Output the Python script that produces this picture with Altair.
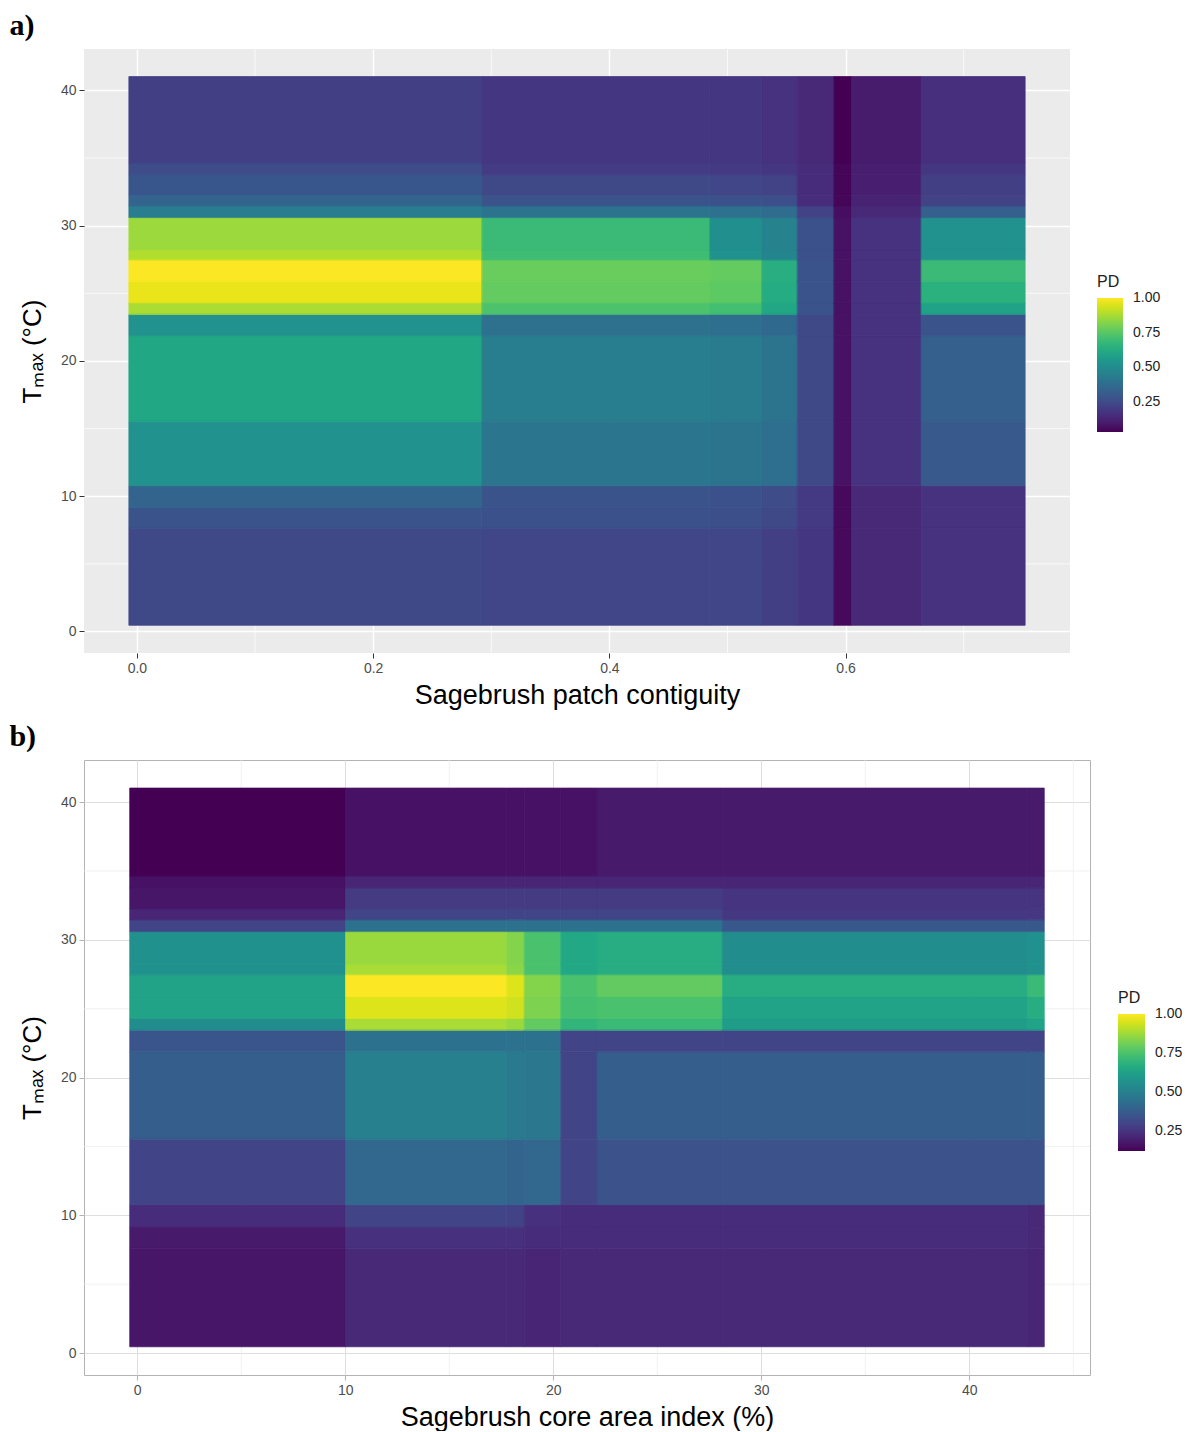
import altair as alt
import pandas as pd

# Shared Tmax tile edges (deg C), bottom to top
tmax_edges = [0.46, 7.62, 9.15, 10.77, 15.53, 21.87, 23.44, 24.29, 25.88,
              27.47, 28.2, 30.6, 31.45, 32.25, 33.77, 34.64, 41.02]
y_ticks = [0, 10, 20, 30, 40]
y_minor = [5, 15, 25, 35]

# ---- Panel a: Sagebrush patch contiguity ----
contig_edges = [-0.0068, 0.292, 0.485, 0.529, 0.559, 0.590, 0.605, 0.664, 0.752]
contig_ticks = [0.0, 0.2, 0.4, 0.6]
contig_minor = [0.1, 0.3, 0.5, 0.7]
# PD per contiguity column, low Tmax -> high Tmax
pd_a_col1 = [0.24, 0.28, 0.34, 0.52, 0.61, 0.52, 0.88, 0.97, 1.00, 0.89, 0.86, 0.44, 0.34, 0.29, 0.25, 0.21]
pd_a_col2 = [0.23, 0.27, 0.28, 0.41, 0.44, 0.39, 0.73, 0.77, 0.78, 0.70, 0.69, 0.40, 0.28, 0.24, 0.20, 0.18]
pd_a_col3 = [0.23, 0.26, 0.27, 0.40, 0.43, 0.38, 0.71, 0.76, 0.77, 0.52, 0.51, 0.39, 0.27, 0.23, 0.19, 0.18]
pd_a_col4 = [0.21, 0.24, 0.25, 0.38, 0.40, 0.36, 0.61, 0.63, 0.64, 0.47, 0.46, 0.37, 0.26, 0.22, 0.18, 0.17]
pd_a_col5 = [0.18, 0.19, 0.19, 0.24, 0.24, 0.24, 0.28, 0.28, 0.28, 0.27, 0.27, 0.22, 0.15, 0.15, 0.15, 0.14]
pd_a_col6 = [0.05, 0.05, 0.05, 0.07, 0.07, 0.07, 0.07, 0.07, 0.07, 0.07, 0.07, 0.06, 0.04, 0.04, 0.04, 0.03]
pd_a_col7 = [0.14, 0.14, 0.14, 0.17, 0.17, 0.17, 0.17, 0.17, 0.17, 0.17, 0.17, 0.14, 0.12, 0.11, 0.11, 0.10]
pd_a_col8 = [0.17, 0.17, 0.17, 0.30, 0.32, 0.28, 0.59, 0.65, 0.69, 0.52, 0.52, 0.32, 0.22, 0.21, 0.18, 0.16]
pd_a_domain = [0.03, 1.003]

# ---- Panel b: Sagebrush core area index (%) ----
core_edges = [-0.36, 10.01, 17.76, 18.6, 20.36, 22.1, 28.13, 42.8, 43.6]
core_ticks = [0, 10, 20, 30, 40]
core_minor = [5, 15, 25, 35, 45]
pd_b_col1 = [0.17, 0.18, 0.23, 0.30, 0.38, 0.35, 0.55, 0.63, 0.63, 0.56, 0.56, 0.30, 0.21, 0.17, 0.16, 0.12]
pd_b_col2 = [0.22, 0.24, 0.30, 0.41, 0.50, 0.45, 0.89, 0.96, 1.00, 0.89, 0.87, 0.45, 0.30, 0.27, 0.21, 0.16]
pd_b_col3 = [0.22, 0.24, 0.29, 0.40, 0.48, 0.45, 0.87, 0.94, 0.96, 0.85, 0.84, 0.45, 0.30, 0.27, 0.21, 0.16]
pd_b_col4 = [0.21, 0.23, 0.24, 0.41, 0.47, 0.45, 0.79, 0.83, 0.84, 0.75, 0.75, 0.45, 0.30, 0.27, 0.21, 0.16]
pd_b_col5 = [0.22, 0.23, 0.23, 0.30, 0.30, 0.30, 0.70, 0.74, 0.75, 0.65, 0.65, 0.45, 0.30, 0.27, 0.21, 0.16]
pd_b_col6 = [0.22, 0.23, 0.23, 0.34, 0.38, 0.30, 0.72, 0.75, 0.79, 0.67, 0.67, 0.45, 0.30, 0.27, 0.21, 0.18]
pd_b_col7 = [0.22, 0.23, 0.23, 0.34, 0.38, 0.30, 0.61, 0.63, 0.67, 0.55, 0.55, 0.36, 0.26, 0.25, 0.21, 0.18]
pd_b_col8 = [0.21, 0.22, 0.22, 0.34, 0.38, 0.30, 0.63, 0.67, 0.72, 0.56, 0.56, 0.36, 0.26, 0.25, 0.21, 0.18]
pd_b_domain = [0.12, 1.003]

legend_values = [0.25, 0.5, 0.75, 1.0]


def tiles_df(x_edges, cols):
    recs = []
    for j, col in enumerate(cols):
        for i, v in enumerate(col):
            recs.append({"x0": x_edges[j], "x1": x_edges[j + 1],
                         "y0": tmax_edges[i], "y1": tmax_edges[i + 1], "pd": v})
    return pd.DataFrame(recs)


def panel(df, xdom, xticks, xfmt, xtitle, xminor, cdom, w, h, lx, ly, glen,
          gthick, major_col, major_w, minor_col, minor_w, tick_col, view, title):
    xs = alt.Scale(domain=xdom, nice=False, zero=False)
    ys = alt.Scale(domain=[-1.59, 43.06], nice=False, zero=False)
    common = dict(grid=True, gridColor=major_col, gridWidth=major_w, domain=False,
                  ticks=True, tickColor=tick_col, tickSize=5, tickWidth=1,
                  labelFontSize=14, labelColor="#4d4d4d", labelPadding=3,
                  titleFontWeight="normal", titleColor="black")
    xaxis = alt.Axis(values=xticks, format=xfmt, title=xtitle, titleFontSize=27,
                     titlePadding=7, **common)
    yaxis = alt.Axis(values=y_ticks, format="d", title="T\u2098\u2090\u2093 (\u00b0C)",
                     titleFontSize=26, titlePadding=15, **common)
    mx = alt.Chart(pd.DataFrame({"v": xminor})).mark_rule(
        color=minor_col, strokeWidth=minor_w).encode(
        x=alt.X("v:Q", scale=xs, axis=xaxis))
    my = alt.Chart(pd.DataFrame({"v": y_minor})).mark_rule(
        color=minor_col, strokeWidth=minor_w).encode(
        y=alt.Y("v:Q", scale=ys, axis=yaxis))
    cs = alt.Scale(scheme="viridis", domain=cdom)
    base = alt.Chart(df).encode(
        x=alt.X("x0:Q", scale=xs, axis=xaxis), x2="x1",
        y=alt.Y("y0:Q", scale=ys, axis=yaxis), y2="y1")
    tiles = base.mark_rect().encode(
        color=alt.Color("pd:Q", scale=cs, legend=alt.Legend(
            type="gradient", title="PD", orient="none", legendX=lx, legendY=ly,
            direction="vertical", gradientLength=glen, gradientThickness=gthick,
            values=legend_values, format=".2f", labelFontSize=14,
            labelColor="#222222", labelOffset=10, titleFontSize=16,
            titleFontWeight="normal", titleColor="#222222", titlePadding=8,
            gradientStrokeWidth=0, padding=0)))
    # thin outline in each tile's own colour closes the anti-aliasing seams
    seams = base.mark_rect(filled=False, strokeWidth=0.8).encode(
        color=alt.Color("pd:Q", scale=cs, legend=None))
    return alt.layer(mx, my, tiles, seams).resolve_scale(
        color="independent").resolve_legend(color="independent").properties(
        width=w, height=h, view=view,
        title=alt.TitleParams(title, anchor="start", frame="bounds",
                              font="Liberation Serif", fontSize=30,
                              fontWeight="bold", color="black", dx=-10, offset=8))


df_a = tiles_df(contig_edges, [pd_a_col1, pd_a_col2, pd_a_col3, pd_a_col4,
                               pd_a_col5, pd_a_col6, pd_a_col7, pd_a_col8])
df_b = tiles_df(core_edges, [pd_b_col1, pd_b_col2, pd_b_col3, pd_b_col4,
                             pd_b_col5, pd_b_col6, pd_b_col7, pd_b_col8])

chart_a = panel(df_a, [-0.0448, 0.790], contig_ticks, ".1f",
                "Sagebrush patch contiguity", contig_minor, pd_a_domain,
                986, 604, 1013, 225, 134, 26, "#ffffff", 1.4, "#ffffff", 0.7,
                "#333333", alt.ViewBackground(fill="#ebebeb", strokeWidth=0), "a)")
chart_b = panel(df_b, [-2.56, 45.8], core_ticks, "d",
                "Sagebrush core area index (%)", core_minor, pd_b_domain,
                1006, 615, 1034, 230, 137, 27, "#dedede", 1.0, "#ebebeb", 0.7,
                "#b3b3b3", alt.ViewBackground(fill="#ffffff", stroke="#b3b3b3", strokeWidth=1), "b)")

chart = alt.vconcat(chart_a, chart_b, spacing=13).resolve_scale(
    color="independent", x="independent", y="independent"
).resolve_legend(color="independent").properties(
    padding={"left": 8, "top": 10, "right": 0, "bottom": 0},
    background="white",
).configure(font="Liberation Sans")

chart.save("out.html", embed_options={"renderer": "svg", "actions": False})
